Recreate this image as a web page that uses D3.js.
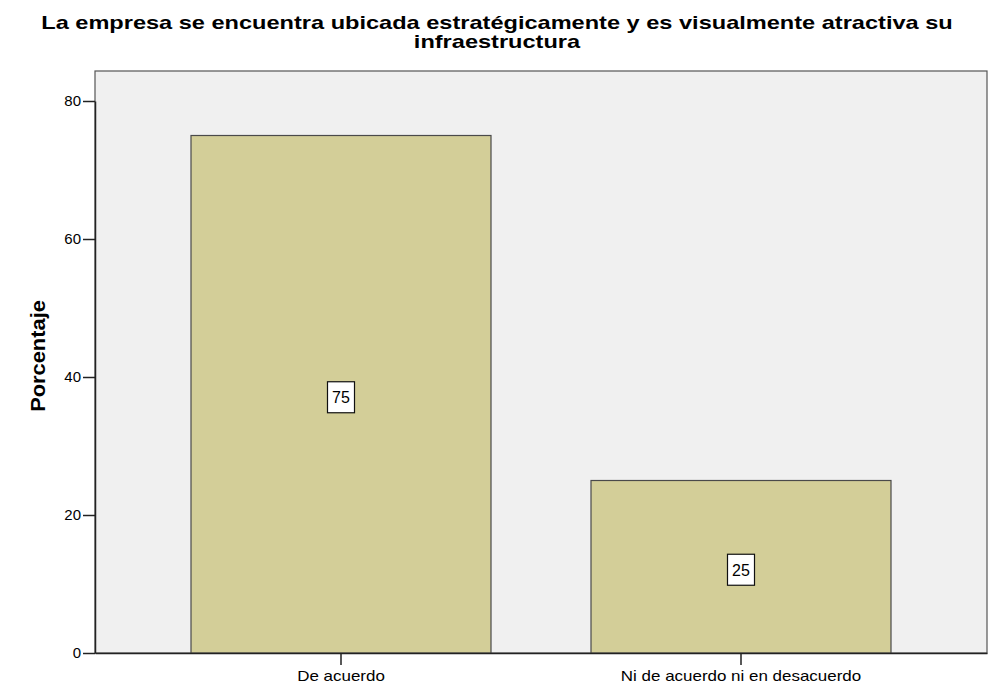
<!DOCTYPE html>
<html>
<head>
<meta charset="utf-8">
<script src="https://cdn.jsdelivr.net/npm/d3@7"></script>
<style>
  body { margin: 0; background: #fff; }
  text { font-family: Arial, "Liberation Sans", sans-serif; }
</style>
</head>
<body>
<svg id="chart"></svg>
<script>
// data
var categories = ["De acuerdo", "Ni de acuerdo ni en desacuerdo"];
var values = [75, 25];
var yTicks = [0, 20, 40, 60, 80];
var titleLines = [
  "La empresa se encuentra ubicada estratégicamente y es visualmente atractiva su",
  "infraestructura"
];
var yLabel = "Porcentaje";

var margin = { top: 71, right: 8, bottom: 31, left: 95 },
  width = 995 - margin.left - margin.right,
  height = 684 - margin.top - margin.bottom;

// the original font is a bit wider than Arial, stretch text to match
function stretch(sel, k) {
  sel.each(function () {
    var len = this.getComputedTextLength();
    d3.select(this)
      .attr("textLength", len * k)
      .attr("lengthAdjust", "spacingAndGlyphs");
  });
}

var svg = d3.select("#chart")
  .attr("width", 995)
  .attr("height", 684);

// title
svg.selectAll(".title")
  .data(titleLines)
  .enter()
  .append("text")
  .attr("class", "title")
  .attr("x", 497)
  .attr("y", function (d, i) { return 29 + i * 19; })
  .attr("text-anchor", "middle")
  .attr("font-size", "19px")
  .attr("font-weight", "bold")
  .attr("fill", "#000")
  .text(function (d) { return d; })
  .call(stretch, 1.24);

var g = svg.append("g")
  .attr("transform", "translate(" + margin.left + "," + margin.top + ")");

var x = d3.scaleBand()
  .domain(categories)
  .range([0, width])
  .paddingInner(0.25)
  .paddingOuter(0.24);

// 0 at bottom (y=653), 80 at y=101
var y = d3.scaleLinear()
  .domain([0, 80])
  .range([582, 30]);

// plot background
g.append("rect")
  .attr("x", 0).attr("y", 0)
  .attr("width", width).attr("height", y(0))
  .attr("fill", "#f0f0f0")
  .attr("stroke", "#555")
  .attr("stroke-width", 1.2);

// bars
g.selectAll(".bar")
  .data(values)
  .enter()
  .append("rect")
  .attr("class", "bar")
  .attr("x", function (d, i) { return x(categories[i]); })
  .attr("width", x.bandwidth())
  .attr("y", function (d) { return y(d); })
  .attr("height", function (d) { return y(0) - y(d); })
  .attr("fill", "#d3ce98")
  .attr("stroke", "#4a4a4a")
  .attr("stroke-width", 1.2);

// value labels in a white box at half the bar height
values.forEach(function (d, i) {
  var cx = x(categories[i]) + x.bandwidth() / 2;
  var cy = y(d / 2) + 3;
  g.append("rect")
    .attr("x", cx - 13.5).attr("y", cy - 15.5)
    .attr("width", 27).attr("height", 31)
    .attr("fill", "#fff")
    .attr("stroke", "#111")
    .attr("stroke-width", 1.2);
  g.append("text")
    .attr("x", cx).attr("y", cy + 6)
    .attr("text-anchor", "middle")
    .attr("font-size", "16px")
    .attr("fill", "#000")
    .text(d);
});

// y axis
var yAxis = g.append("g")
  .call(d3.axisLeft(y).tickValues(yTicks).tickSize(12).tickSizeOuter(0).tickPadding(2));
yAxis.select(".domain").attr("stroke", "#222").attr("stroke-width", 1.5);
yAxis.selectAll(".tick line").attr("stroke", "#222").attr("stroke-width", 1.5);
yAxis.selectAll(".tick text").attr("font-size", "15px").attr("fill", "#000")
  .attr("font-family", "Arial, 'Liberation Sans', sans-serif");

// x axis
var xAxis = g.append("g")
  .attr("transform", "translate(0," + y(0) + ")")
  .call(d3.axisBottom(x).tickSize(12).tickSizeOuter(0).tickPadding(5));
xAxis.select(".domain").attr("stroke", "#222").attr("stroke-width", 1.5);
xAxis.selectAll(".tick line").attr("stroke", "#222").attr("stroke-width", 1.5);
xAxis.selectAll(".tick text").attr("font-size", "15px").attr("fill", "#000")
  .attr("font-family", "Arial, 'Liberation Sans', sans-serif")
  .call(stretch, 1.13);

// y axis label
svg.append("text")
  .attr("transform", "translate(45,356) rotate(-90)")
  .attr("text-anchor", "middle")
  .attr("font-size", "21px")
  .attr("font-weight", "bold")
  .attr("fill", "#000")
  .text(yLabel)
  .call(stretch, 1.04);
</script>
</body>
</html>
